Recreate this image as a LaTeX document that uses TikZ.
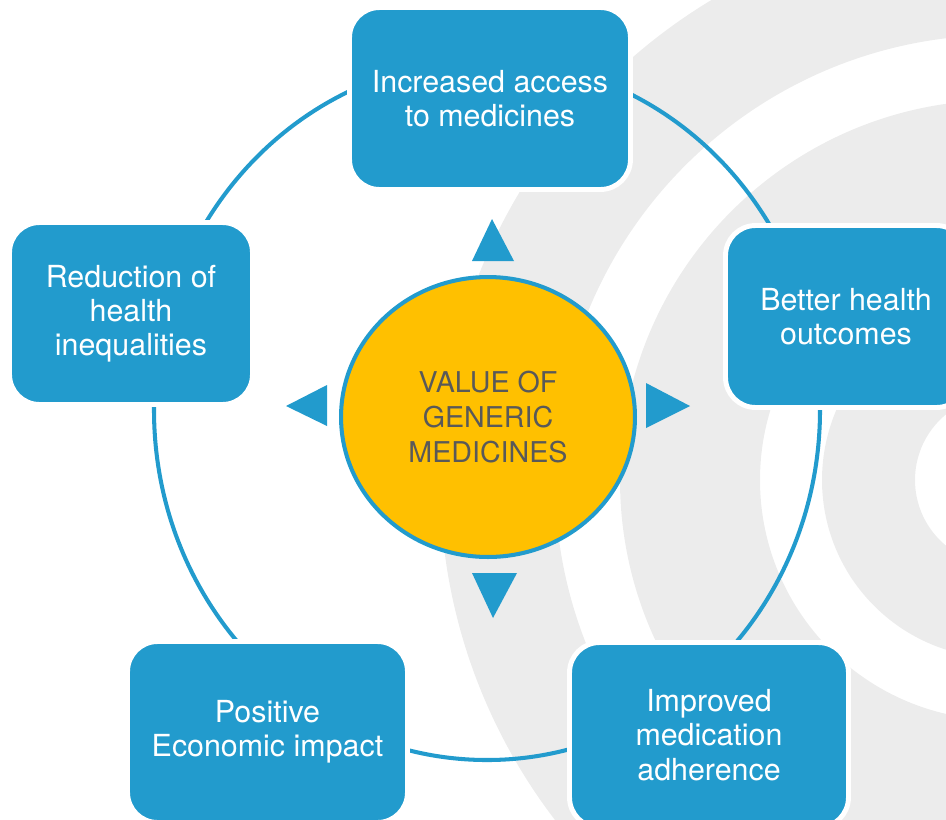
\documentclass[tikz,border=0pt]{standalone}
\usepackage{fontspec}
\setmainfont{TeX Gyre Heros}
\usetikzlibrary{shapes.geometric}

\definecolor{egablue}{RGB}{34,155,205}
\definecolor{egagold}{RGB}{255,192,0}
\definecolor{egagray}{RGB}{236,236,236}
\definecolor{egatext}{RGB}{89,89,89}

\begin{document}
\begin{tikzpicture}[x=0.02cm, y=-0.02cm,
  benefit/.style={rectangle, rounded corners=0.6cm, fill=egablue, draw=white,
    line width=2.8pt, inner sep=0pt, text=white, align=center,
    font=\fontsize{17.3}{19.5}\selectfont},
  bluewedge/.style={fill=egablue}]
\useasboundingbox (0,0) rectangle (946,819);
%\draw[help lines, color=gray!30, thick] (0,0) grid (946,819);
% background swirl
\begin{scope}
\clip (0,0) rectangle (946,819);
\fill[egagray, even odd rule] (1000,480) circle [radius=560] (1000,480) circle [radius=445];
\fill[egagray, even odd rule] (1000,480) circle [radius=380] (1000,480) circle [radius=240];
\fill[egagray, even odd rule] (1000,480) circle [radius=178] (1000,480) circle [radius=85];
\end{scope}
% ring behind the boxes
\draw [egablue, line width=2.3pt] (487,410) ellipse [x radius=333, y radius=350];
\node[benefit, minimum width=5.62cm, minimum height=3.64cm] (access) at (490,98.5) {Increased access\\to medicines};
\node[benefit, minimum width=4.86cm, minimum height=3.64cm] (reduction) at (131,313.5) {Reduction of\\health\\inequalities};
\node[benefit, minimum width=4.82cm, minimum height=3.64cm] (outcomes) at (846,316.5) {Better health\\outcomes};
\node[benefit, minimum width=5.58cm, minimum height=3.70cm] (adherence) at (709,735) {Improved\\medication\\adherence};
\node[benefit, minimum width=5.60cm, minimum height=3.62cm] (economic) at (267.5,732) {Positive\\Economic impact};
\node[ellipse, fill=egagold, draw=egablue, line width=2.3pt, inner sep=0pt,
  minimum width=5.88cm, minimum height=5.6cm, text=egatext, align=center,
  font=\fontsize{16.3}{19.8}\selectfont] (core) at (488,417) {VALUE OF\\GENERIC\\MEDICINES};
\fill[bluewedge] (472,261) -- (514,261) -- (492,219) -- cycle;
\fill[bluewedge] (646,383) -- (646,428) -- (690,406) -- cycle;
\fill[bluewedge] (327,385) -- (327,426) -- (286,406) -- cycle;
\fill[bluewedge] (472,573) -- (517,573) -- (493,618) -- cycle;
\end{tikzpicture}
\end{document}
